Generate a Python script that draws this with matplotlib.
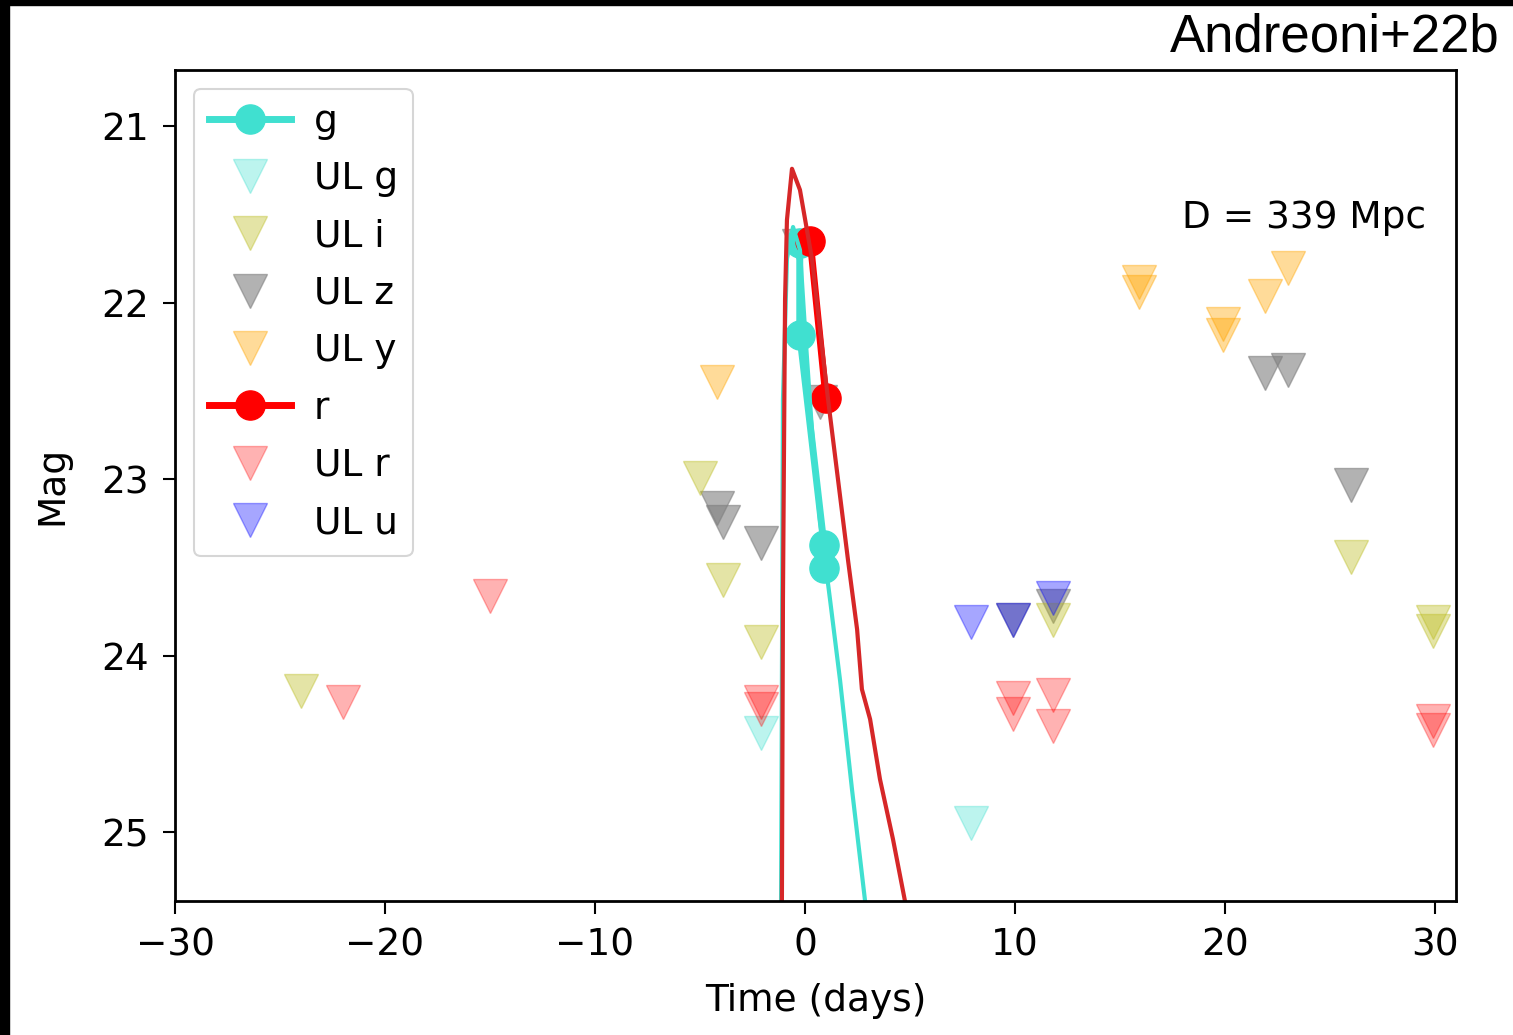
import matplotlib.pyplot as plt
from matplotlib.patches import Rectangle

# detections
g_t = [-0.25, -0.25, 0.9, 0.9]
g_mag = [21.66, 22.18, 23.37, 23.50]
r_t = [0.25, 1.0]
r_mag = [21.65, 22.54]

# upper limits per band
ul_g_t = [-2.1, 7.9]
ul_g_mag = [24.44, 24.95]
ul_i_t = [-24.0, -5.0, -3.9, -2.1, 11.8, 26.0, 29.9, 29.9]
ul_i_mag = [24.20, 22.99, 23.57, 23.92, 23.80, 23.44, 23.81, 23.86]
ul_z_t = [-0.3, 0.7, -4.2, -3.9, -2.1, 9.9, 11.8, 21.9, 23.0, 26.0]
ul_z_mag = [21.68, 22.56, 23.16, 23.24, 23.36, 23.80, 23.72, 22.40, 22.38, 23.03]
ul_y_t = [-4.2, 15.9, 15.9, 19.9, 19.9, 21.9, 23.0]
ul_y_mag = [22.45, 21.88, 21.94, 22.12, 22.18, 21.96, 21.80]
ul_r_t = [-22.0, -15.0, -2.1, -2.1, 9.9, 9.9, 11.8, 11.8, 29.9, 29.9]
ul_r_mag = [24.26, 23.66, 24.26, 24.30, 24.24, 24.33, 24.22, 24.40, 24.37, 24.42]
ul_u_t = [7.9, 9.9, 11.8]
ul_u_mag = [23.81, 23.80, 23.67]

# kilonova model curves
mod_g_t = [-1.14, -1.05, -0.86, -0.57, -0.24, 0.0, 0.33, 0.71, 1.19, 1.67, 2.24, 2.86]
mod_g_mag = [25.39, 22.55, 21.75, 21.57, 21.70, 22.15, 22.72, 23.23, 23.68, 24.14, 24.76, 25.39]
mod_r_t = [-1.10, -1.05, -0.95, -0.86, -0.62, -0.24, 0.33, 0.71, 1.10, 1.57, 2.05, 2.48,
           2.71, 3.10, 3.57, 4.19, 4.76]
mod_r_mag = [25.39, 23.68, 21.98, 21.53, 21.24, 21.36, 21.75, 22.15, 22.55, 23.00, 23.46, 23.85,
             24.19, 24.36, 24.70, 25.04, 25.39]

fs = 27
plt.rcParams['font.size'] = fs

fig = plt.figure(figsize=(15.13, 10.35), dpi=100)
ax = fig.add_axes([0.1157, 0.1295, 0.8466, 0.8029])

ms_tri = 24
ax.plot(g_t, g_mag, '-o', color='turquoise', lw=5, ms=21, label='g')
ax.plot(ul_g_t, ul_g_mag, 'v', color='turquoise', alpha=0.35, ms=ms_tri, label='UL g')
ax.plot(ul_i_t, ul_i_mag, 'v', color='#bcbd22', alpha=0.4, ms=ms_tri, label='UL i')
ax.plot(ul_z_t, ul_z_mag, 'v', color='gray', alpha=0.6, ms=ms_tri, label='UL z', zorder=1.5)
ax.plot(ul_y_t, ul_y_mag, 'v', color='orange', alpha=0.4, ms=ms_tri, label='UL y')
ax.plot(r_t, r_mag, '-o', color='red', lw=5, ms=21, label='r')
ax.plot(ul_r_t, ul_r_mag, 'v', color='red', alpha=0.3, ms=ms_tri, label='UL r')
ax.plot(ul_u_t, ul_u_mag, 'v', color='blue', alpha=0.35, ms=ms_tri, label='UL u')

ax.plot(mod_g_t, mod_g_mag, color='turquoise', lw=3)
ax.plot(mod_r_t, mod_r_mag, color='#d62728', lw=3)

ax.set_xlim(-30, 31)
ax.set_ylim(25.39, 20.68)
ax.set_xticks([-30, -20, -10, 0, 10, 20, 30])
ax.set_yticks([21, 22, 23, 24, 25])
ax.tick_params(length=9, width=1.5, labelsize=fs)
ax.tick_params(axis='x', pad=10)
ax.tick_params(axis='y', pad=10)
for s in ax.spines.values():
    s.set_linewidth(2)
ax.set_xlabel('Time (days)', fontsize=fs, labelpad=14)
ax.set_ylabel('Mag', fontsize=fs, labelpad=22)
ax.text(29.6, 21.52, 'D = 339 Mpc', ha='right', va='center', fontsize=fs)

leg = ax.legend(loc='upper left', fontsize=fs, labelspacing=0.57, handlelength=2.2,
                handletextpad=0.6, borderpad=0.4)
leg.get_frame().set_linewidth(1.5)

fig.text(0.991, 0.950, 'Andreoni+22b', ha='right', va='baseline',
         fontsize=38, family='Liberation Sans')

# black strips along the left and top edges
fig.patches.append(Rectangle((0, 0), 9 / 1513, 1, transform=fig.transFigure,
                             color='black', zorder=10))
fig.patches.append(Rectangle((0, 1 - 5 / 1035), 1, 5 / 1035, transform=fig.transFigure,
                             color='black', zorder=10))

fig.savefig('out.png', dpi=100)
